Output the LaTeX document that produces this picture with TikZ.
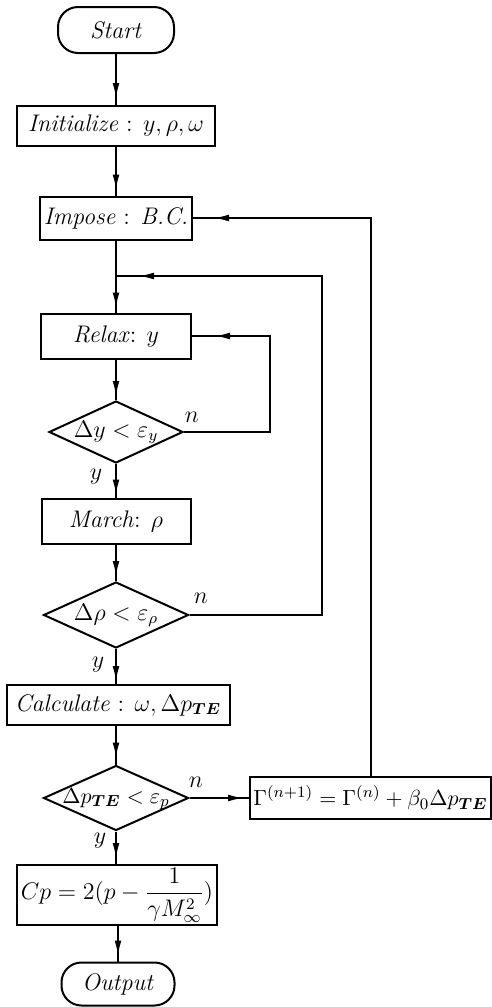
\documentclass[tikz,border=0pt]{standalone}
\usepackage{amsmath,bm}
\usetikzlibrary{shapes.geometric,decorations.markings,arrows.meta}
\begin{document}
\begin{tikzpicture}[x=0.5pt,y=-0.5pt,
  every node/.style={font=\fontsize{12}{14}\selectfont},
  proc/.style={draw,line width=1pt,inner sep=1pt},
  term/.style={draw,line width=1pt,inner sep=1pt,rounded corners=10pt},
  decide/.style={draw,diamond,line width=1pt,inner sep=0pt,aspect=2.2,
      text height=7pt,text depth=2pt},
  conn/.style={line width=1pt},
  marr/.style={postaction={decorate,decoration={markings,
      mark=at position #1 with {\arrow{Latex[length=8pt,width=3.4pt]}}}}},
  lbl/.style={inner sep=0pt}
]
\fill[white] (0,0) rectangle (492,1007);
\useasboundingbox (0,0) rectangle (492,1007);

\node[term, minimum width=58pt, minimum height=23pt] (start) at (116,30) {\textit{Start}};
\node[proc, minimum width=99pt, minimum height=20pt] (init) at (116,126) {\textit{Initialize} : $y, \rho, \omega$};
\node[proc, minimum width=76pt, minimum height=21.5pt] (impose) at (116,218) {\textit{Impose} : \textit{B.C.}};
\coordinate (junc) at (116,276);
\node[proc, minimum width=75pt, minimum height=22.5pt] (relax) at (116,336) {\textit{Relax}: $y$};
\node[decide, minimum width=67pt, minimum height=31pt] (dy) at (116,432) {$\Delta y < \varepsilon_y$};
\node[proc, minimum width=74.5pt, minimum height=22.5pt] (march) at (116,521) {\textit{March}: $\rho$};
\node[decide, minimum width=72.5pt, minimum height=33pt] (drho) at (116,615) {$\Delta \rho < \varepsilon_\rho$};
\node[proc, minimum width=111.5pt, minimum height=20pt] (calc) at (118,705) {\textit{Calculate} : $\omega, \Delta p_{\bm{TE}}$};
\node[decide, minimum width=72.5pt, minimum height=32.5pt, text height=6.5pt, text depth=1.5pt, font=\fontsize{11}{13}\selectfont] (dp) at (116,798) {$\Delta p_{\bm{TE}} < \varepsilon_p$};
\node[proc, minimum width=120.5pt, minimum height=21pt, font=\fontsize{11}{13}\selectfont] (gamma) at (370.5,798) {$\Gamma^{(n+1)} = \Gamma^{(n)} + \beta_0 \Delta p_{\bm{TE}}$};
\node[proc, minimum width=100pt, minimum height=30pt, font=\fontsize{11.5}{13}\selectfont] (cp) at (117,895) {$Cp = 2(p - \dfrac{1}{\gamma M_\infty^2})$};
\node[term, minimum width=56.5pt, minimum height=21.5pt] (output) at (118,984) {\textit{Output}};

\coordinate (cA) at (270,0);
\coordinate (cB) at (322,0);

% main line
\draw[conn, marr=-3pt] (start) -- (init);
\draw[conn, marr=-2.5pt] (init) -- (impose);
\draw[conn, marr=-2pt] (impose) -- (relax);
\draw[conn, marr=-1.5pt] (relax) -- (dy);
\draw[conn, marr=-1pt] (dy) -- (march);
\draw[conn, marr=-2pt] (march) -- (drho);
\draw[conn, marr=-1pt] (drho) -- (calc.north -| drho);
\draw[conn, marr=-3pt] (calc.south -| dp) -- (dp);
\draw[conn, marr=-2.5pt] (dp) -- (gamma);
\draw[conn, marr=-2.5pt] (dp) -- (cp.north -| dp);
\draw[conn, marr=-2.5pt] (cp.south -| output) -- (output);

% loops
\draw[conn, marr=-11pt] (dy.east) -| (cA |- relax.east) -- (relax.east);
\draw[conn, marr=-11pt] (drho.east) -| (cB |- junc) -- (junc);
\draw[conn, marr=-10pt] (gamma.north) |- (impose.east);

% labels
\node[lbl] (n1) at (192,417) {$n$};
\node[lbl] (n2) at (201,598) {$n$};
\node[lbl] (n3) at (196,782) {$n$};
\node[lbl] (y1) at (96,477) {$y$};
\node[lbl] (y2) at (98,665) {$y$};
\node[lbl] (y3) at (100,841) {$y$};
\end{tikzpicture}
\end{document}
